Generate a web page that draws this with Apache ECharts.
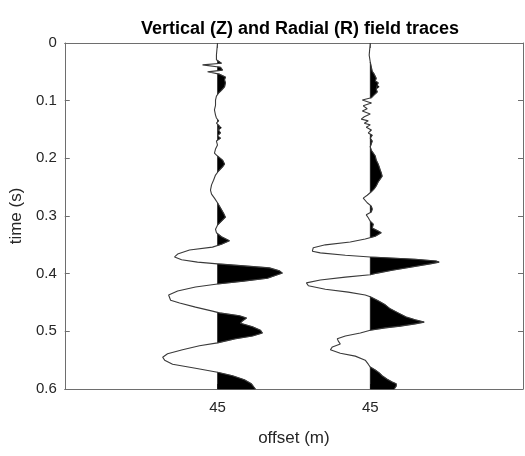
<!DOCTYPE html>
<html>
<head>
<meta charset="utf-8">
<script src="https://cdn.jsdelivr.net/npm/echarts@6/dist/echarts.min.js"></script>
<style>
  html, body { margin: 0; padding: 0; background: #fff; }
  #chart { width: 525px; height: 456px; }
</style>
</head>
<body>
<div id="chart"></div>
<script>
// Trace positions on the offset axis and their tick labels
const tracePositions = [1, 2];
const offsetLabels = ['45', '45'];

// Vertical (Z) component: time (s) and normalized amplitude
const zTime = [0.000, 0.021, 0.029, 0.035, 0.038, 0.042, 0.047, 0.050, 0.054, 0.059,
  0.064, 0.069, 0.076, 0.082, 0.087, 0.092, 0.099, 0.108, 0.116, 0.125,
  0.130, 0.135, 0.139, 0.144, 0.147, 0.151, 0.156, 0.161, 0.165, 0.170,
  0.177, 0.184, 0.191, 0.196, 0.203, 0.210, 0.215, 0.222, 0.229, 0.238,
  0.246, 0.255, 0.262, 0.269, 0.277, 0.286, 0.295, 0.302, 0.309, 0.316,
  0.323, 0.329, 0.336, 0.343, 0.349, 0.354, 0.359, 0.366, 0.371, 0.376,
  0.380, 0.383, 0.387, 0.390, 0.395, 0.399, 0.402, 0.408, 0.413, 0.418,
  0.423, 0.430, 0.437, 0.440, 0.446, 0.451, 0.458, 0.465, 0.468, 0.473,
  0.477, 0.482, 0.486, 0.492, 0.498, 0.503, 0.508, 0.513, 0.520, 0.525,
  0.532, 0.539, 0.545, 0.550, 0.557, 0.564, 0.571, 0.577, 0.584, 0.591, 0.600];
const zAmp = [0, -0.007, -0.007, 0.026, -0.098, 0.020, 0.033, -0.065, 0.013, 0.052,
  0.046, 0.052, 0.046, 0.026, 0.007, -0.007, -0.013, -0.013, -0.020, -0.013,
  -0.007, 0.007, -0.007, 0.013, 0.026, 0.007, 0.020, 0, 0.020, -0.007,
  0, -0.013, -0.020, 0, 0.033, 0.046, 0.033, 0.007, -0.013, -0.026,
  -0.039, -0.046, -0.039, -0.020, 0, 0.020, 0.039, 0.052, 0.026, 0,
  -0.013, -0.007, 0.026, 0.078, 0.026, -0.033, -0.183, -0.261, -0.281, -0.235,
  -0.131, 0, 0.196, 0.340, 0.405, 0.425, 0.392, 0.327, 0.170, 0,
  -0.144, -0.261, -0.320, -0.333, -0.307, -0.248, -0.144, -0.033, 0.013, 0.144,
  0.190, 0.163, 0.150, 0.229, 0.281, 0.294, 0.229, 0.118, 0, -0.118,
  -0.229, -0.327, -0.359, -0.346, -0.294, -0.144, 0, 0.098, 0.176, 0.222, 0.248];

// Radial (R) component: time (s) and normalized amplitude
const rTime = [0.000, 0.021, 0.033, 0.042, 0.049, 0.054, 0.061, 0.066, 0.069, 0.073,
  0.076, 0.080, 0.085, 0.090, 0.095, 0.099, 0.104, 0.109, 0.114, 0.118,
  0.123, 0.128, 0.132, 0.135, 0.139, 0.142, 0.146, 0.151, 0.156, 0.160,
  0.165, 0.170, 0.175, 0.180, 0.186, 0.191, 0.196, 0.203, 0.210, 0.215,
  0.220, 0.225, 0.231, 0.236, 0.241, 0.248, 0.253, 0.258, 0.264, 0.269,
  0.272, 0.277, 0.283, 0.288, 0.293, 0.298, 0.303, 0.309, 0.314, 0.321,
  0.326, 0.329, 0.335, 0.340, 0.345, 0.350, 0.355, 0.361, 0.364, 0.368,
  0.371, 0.375, 0.378, 0.380, 0.383, 0.389, 0.394, 0.399, 0.402, 0.406,
  0.411, 0.416, 0.421, 0.427, 0.432, 0.437, 0.440, 0.447, 0.454, 0.461,
  0.468, 0.475, 0.480, 0.484, 0.487, 0.491, 0.494, 0.498, 0.503, 0.508,
  0.513, 0.517, 0.522, 0.527, 0.532, 0.538, 0.543, 0.550, 0.557, 0.562,
  0.567, 0.572, 0.577, 0.583, 0.588, 0.591, 0.595, 0.600];
const rAmp = [0, -0.007, 0, 0.007, 0.013, 0.026, 0.039, 0.033, 0.052, 0.046,
  0.059, 0.039, 0.046, 0.026, 0.007, -0.052, 0.007, -0.046, -0.020, -0.052,
  0, -0.039, -0.059, -0.013, -0.039, 0, -0.026, 0.007, -0.013, 0.013,
  0, 0.013, 0.007, 0, 0.007, 0.020, 0.033, 0.039, 0.052, 0.059,
  0.065, 0.072, 0.078, 0.065, 0.052, 0.039, 0.026, 0.007, -0.020, -0.046,
  -0.052, -0.020, 0.007, 0.013, 0.007, -0.026, -0.013, 0, 0.020, 0.013,
  0.052, 0.072, 0.033, -0.033, -0.131, -0.294, -0.373, -0.379, -0.327, -0.163,
  0, 0.294, 0.431, 0.451, 0.392, 0.261, 0.144, 0.046, 0, -0.163,
  -0.327, -0.418, -0.405, -0.294, -0.144, -0.033, 0, 0.052, 0.098, 0.131,
  0.183, 0.235, 0.294, 0.353, 0.294, 0.196, 0.098, 0, -0.065, -0.163,
  -0.216, -0.209, -0.196, -0.248, -0.261, -0.196, -0.098, -0.033, -0.013, 0,
  0.033, 0.059, 0.078, 0.111, 0.144, 0.170, 0.170, 0.157];

const traces = [
  { base: tracePositions[0], time: zTime, amp: zAmp },
  { base: tracePositions[1], time: rTime, amp: rAmp }
];

const textColor = '#262626';
const axisColor = '#6e6e6e';
const fontFamily = 'Liberation Sans, Arial, Helvetica, sans-serif';

// Split a trace into its positive lobes (closed along the trace baseline)
function positiveLobes(base, time, amp) {
  const lobes = [];
  let cur = null;
  for (let i = 0; i < time.length; i++) {
    const a = amp[i], t = time[i];
    if (a > 0) {
      if (!cur) {
        let tc = t;
        if (i > 0) {
          const a0 = amp[i - 1], t0 = time[i - 1];
          tc = t0 + (t - t0) * (0 - a0) / (a - a0);
        }
        cur = [[base, tc]];
      }
      cur.push([base + a, t]);
    } else if (cur) {
      const a0 = amp[i - 1], t0 = time[i - 1];
      const tc = t0 + (t - t0) * (0 - a0) / (a - a0);
      cur.push([base, tc]);
      lobes.push(cur);
      cur = null;
    }
  }
  if (cur) {
    cur.push([base, time[time.length - 1]]);
    lobes.push(cur);
  }
  return lobes;
}

const series = [];
traces.forEach(function (tr) {
  const lobes = positiveLobes(tr.base, tr.time, tr.amp);
  series.push({
    type: 'custom',
    coordinateSystem: 'cartesian2d',
    xAxisIndex: 0,
    yAxisIndex: 0,
    data: lobes.map(function (l, i) { return [l[0][0], l[0][1], i]; }),
    renderItem: function (params, api) {
      const lobe = lobes[params.dataIndex];
      return {
        type: 'polygon',
        shape: { points: lobe.map(function (p) { return api.coord(p); }) },
        style: { fill: '#000', stroke: '#000', lineWidth: 0.5 }
      };
    },
    silent: true,
    z: 2
  });
  series.push({
    type: 'line',
    xAxisIndex: 0,
    yAxisIndex: 0,
    data: tr.time.map(function (t, i) { return [tr.base + tr.amp[i], t]; }),
    showSymbol: false,
    symbol: 'none',
    lineStyle: { color: '#3a3a3a', width: 1.1 },
    silent: true,
    animation: false,
    z: 3
  });
});

const chart = echarts.init(document.getElementById('chart'), null, { renderer: 'canvas' });
chart.setOption({
  animation: false,
  backgroundColor: '#fff',
  title: {
    text: 'Vertical (Z) and Radial (R) field traces',
    left: 295,
    textAlign: 'center',
    top: 15,
    textStyle: { fontFamily: fontFamily, fontWeight: 'bold', fontSize: 18, color: '#000' }
  },
  grid: { left: 64, right: 2, top: 43, bottom: 67, containLabel: false },
  xAxis: [{
    type: 'value',
    min: 0, max: 3, interval: 1,
    position: 'bottom',
    name: 'offset (m)',
    nameLocation: 'middle',
    nameGap: 41,
    nameTextStyle: { fontFamily: fontFamily, fontSize: 17, color: textColor },
    axisLine: { show: true, onZero: false, lineStyle: { color: axisColor, width: 1 } },
    axisTick: { show: true, inside: true, length: 5, lineStyle: { color: axisColor }, customValues: tracePositions },
    axisLabel: {
      fontFamily: fontFamily, fontSize: 15, color: textColor, margin: 11,
      customValues: tracePositions,
      formatter: function (v) {
        const idx = tracePositions.indexOf(v);
        return idx >= 0 ? offsetLabels[idx] : '';
      }
    },
    splitLine: { show: false }
  }, {
    type: 'value',
    min: 0, max: 3, interval: 1,
    position: 'top',
    axisLine: { show: true, onZero: false, lineStyle: { color: axisColor, width: 1 } },
    axisTick: { show: true, inside: true, length: 5, lineStyle: { color: axisColor }, customValues: tracePositions },
    axisLabel: { show: false },
    splitLine: { show: false }
  }],
  yAxis: [{
    type: 'value',
    inverse: true,
    min: 0, max: 0.6, interval: 0.1,
    position: 'left',
    name: 'time (s)',
    nameLocation: 'middle',
    nameGap: 28,
    nameRotate: 90,
    nameTextStyle: { fontFamily: fontFamily, fontSize: 17, color: textColor },
    axisLine: { show: true, onZero: false, lineStyle: { color: axisColor, width: 1 } },
    axisTick: { show: true, inside: true, length: 5, lineStyle: { color: axisColor } },
    axisLabel: { fontFamily: fontFamily, fontSize: 15, color: textColor, margin: 8 },
    splitLine: { show: false }
  }, {
    type: 'value',
    inverse: true,
    min: 0, max: 0.6, interval: 0.1,
    position: 'right',
    axisLine: { show: true, onZero: false, lineStyle: { color: axisColor, width: 1 } },
    axisTick: { show: true, inside: true, length: 5, lineStyle: { color: axisColor } },
    axisLabel: { show: false },
    splitLine: { show: false }
  }],
  series: series
});
</script>
</body>
</html>
